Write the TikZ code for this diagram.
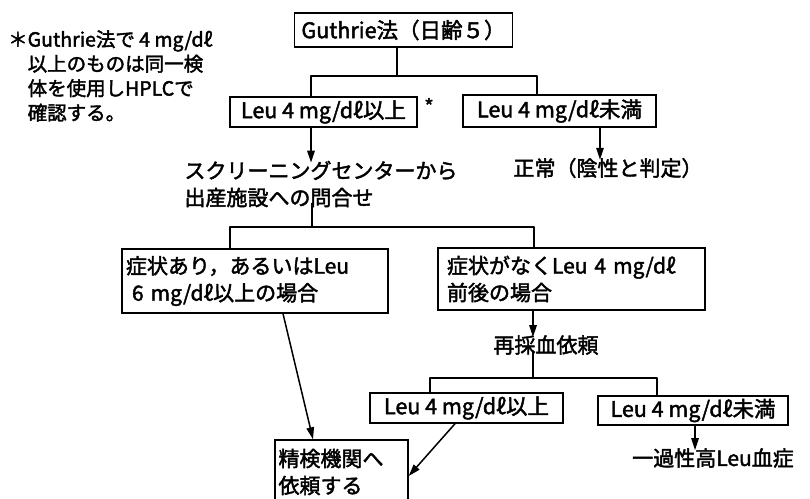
\documentclass[tikz,border=0pt]{standalone}
\usepackage{fontspec}
\setmainfont{Noto Sans CJK JP}[FakeBold=2]
\usetikzlibrary{arrows.meta}
\newcommand\mainfs{\fontsize{21}{27}\selectfont}
\newcommand\boxfs{\fontsize{21.5}{27}\selectfont}
\newcommand\notefs{\fontsize{19.5}{24.5}\selectfont}
\begin{document}
\begin{tikzpicture}[x=1pt,y=-1pt,
  conn/.style={line width=1.5pt, line cap=round, line join=round},
  arr/.style={conn, -{Triangle[length=12pt,width=7.5pt]}},
  box/.style={draw, line width=1.4pt, inner sep=0pt, font=\boxfs},
  txt/.style={inner sep=0pt, font=\mainfs}]
\clip (0,0) rectangle (810,498);
\fill[white] (0,0) rectangle (810,498);

% note
\node[inner sep=0pt, font=\notefs, align=left, anchor=north west] (note) at (8,30)
  {＊Guthrie法で 4 mg/dℓ\\\hphantom{＊}以上のものは同一検\\\hphantom{＊}体を使用しHPLCで\\\hphantom{＊}確認する。};

% boxes and texts
\node[box, minimum width=218pt, minimum height=34pt] (guth) at (403.5,30) {Guthrie法（日齢５）};
\node[box, minimum width=187pt, minimum height=30pt] (hi1) at (323.5,112) {Leu 4 mg/dℓ以上};
\node[inner sep=0pt, font=\fontsize{20}{20}\selectfont] (ast) at (429,106) {*};
\node[box, minimum width=193pt, minimum height=32pt] (lo1) at (559.5,111) {Leu 4 mg/dℓ未満};
\node[txt] (norm) at (608,168) {正常（陰性と判定）};
\node[txt, align=left] (scr) at (321,184) {スクリーニングセンターから\\出産施設への問合せ};
\node[box, font=\mainfs, minimum width=266pt, minimum height=64pt, align=left, text width=258pt] (sym) at (255,281)
  {症状あり，あるいはLeu\\\hspace{6pt}6 mg/dℓ以上の場合};
\node[box, font=\mainfs, minimum width=267pt, minimum height=62pt, align=left, text width=249pt] (nosym) at (571.5,279)
  {症状がなくLeu 4 mg/dℓ\\前後の場合};
\node[txt] (resamp) at (546,345) {再採血依頼};
\node[box, minimum width=193pt, minimum height=30pt] (hi2) at (466.5,408) {Leu 4 mg/dℓ以上};
\node[box, minimum width=190pt, minimum height=29pt] (lo2) at (693,410.5) {Leu 4 mg/dℓ未満};
\node[txt] (trans) at (713,458) {一過性高Leu血症};
\node[box, font=\mainfs, minimum width=133pt, minimum height=64pt, align=left, text width=126pt] (refer) at (341.5,472)
  {精検機関へ\\依頼する};

% junction coordinates
\coordinate (j1) at (397,76);
\coordinate (j1l) at (311,76);
\coordinate (j1r) at (537,76);
\coordinate (a1) at (600,0);
\coordinate (j2) at (312,227);
\coordinate (j2l) at (230,227);
\coordinate (j2r) at (534,227);
\coordinate (a2) at (283,0);
\coordinate (a2e) at (313,0);
\coordinate (j3) at (533,378);
\coordinate (j3l) at (430,378);
\coordinate (j3r) at (657,378);
\coordinate (a3) at (695,0);
\coordinate (a4) at (455,0);

% connectors
\draw[conn] (guth.south -| j1) -- (j1);
\draw[conn] (hi1.north -| j1l) -- (j1l) -- (j1r) -- (lo1.north -| j1r);
\draw[arr] (hi1.south -| j1l) -- ([yshift=-2pt]scr.north -| j1l);
\draw[arr] (lo1.south -| a1) -- ([yshift=-2pt]norm.north -| a1);
\draw[conn] ([yshift=4pt]scr.south -| j2) -- (j2);
\draw[conn] (sym.north -| j2l) -- (j2l) -- (j2r) -- (nosym.north -| j2r);
\draw[arr] (sym.south -| a2) -- (refer.north -| a2e);
\draw[arr] (nosym.south -| j3) -- ([yshift=-2pt]resamp.north -| j3);
\draw[conn] ([yshift=4pt]resamp.south -| j3) -- (j3);
\draw[conn] (hi2.north -| j3l) -- (j3l) -- (j3r) -- (lo2.north -| j3r);
\draw[arr] (lo2.south -| a3) -- ([yshift=-2pt]trans.north -| a3);
\draw[arr] (hi2.south -| a4) -- ([yshift=-4pt]refer.east);
\end{tikzpicture}
\end{document}
